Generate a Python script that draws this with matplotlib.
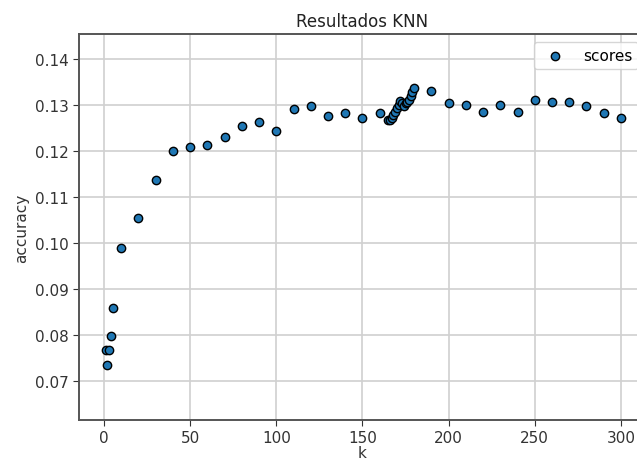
import matplotlib
matplotlib.use("Agg")
import matplotlib.pyplot as plt

k_values = [1, 2, 3, 4, 5, 10, 20, 30, 40, 50, 60, 70, 80, 90, 100, 110, 120,
            130, 140, 150, 160, 165, 166, 167, 168, 169, 170, 171, 172, 173,
            174, 175, 176, 177, 178, 179, 180, 190, 200, 210, 220, 230, 240,
            250, 260, 270, 280, 290, 300]
scores = [0.0767, 0.0735, 0.0767, 0.0798, 0.0859, 0.0988, 0.1054, 0.1137,
          0.1200, 0.1208, 0.1213, 0.1229, 0.1253, 0.1262, 0.1243, 0.1291,
          0.1297, 0.1276, 0.1283, 0.1271, 0.1283, 0.1268, 0.1266, 0.1272,
          0.1278, 0.1285, 0.1292, 0.1300, 0.1309, 0.1304, 0.1298, 0.1303,
          0.1306, 0.1310, 0.1320, 0.1327, 0.1336, 0.1331, 0.1304, 0.1299,
          0.1285, 0.1299, 0.1285, 0.1310, 0.1306, 0.1306, 0.1297, 0.1283,
          0.1271]

fig = plt.figure(figsize=(6.37, 4.6), dpi=100)
# axes deliberately run past the right edge, like the cropped original
ax = fig.add_axes([0.124, 0.085, 0.89, 0.839])

ax.scatter(k_values, scores, s=36, color="#1f77b4", edgecolors="black",
           linewidths=1.0, label="scores", zorder=3)

ax.set_xlim(-14.5, 314.5)
ax.set_ylim(0.0615, 0.1454)
ax.set_xticks([0, 50, 100, 150, 200, 250, 300])
ax.set_yticks([0.07, 0.08, 0.09, 0.10, 0.11, 0.12, 0.13, 0.14])
ax.set_yticklabels(["0.07", "0.08", "0.09", "0.10", "0.11", "0.12", "0.13", "0.14"])

ax.grid(color="#d0d0d0", linewidth=1.2)
ax.set_axisbelow(True)
for sp in ax.spines.values():
    sp.set_color("#555555")
    sp.set_linewidth(1.4)
ax.tick_params(labelsize=11, colors="#333333", length=4)

ax.set_title("Resultados KNN", fontsize=12, color="#222222")
ax.set_xlabel("k", fontsize=11, color="#333333", labelpad=0)
ax.set_ylabel("accuracy", fontsize=11, color="#333333")
ax.legend(loc="upper right", fontsize=11, scatterpoints=1)

plt.savefig("out.png", dpi=100)
